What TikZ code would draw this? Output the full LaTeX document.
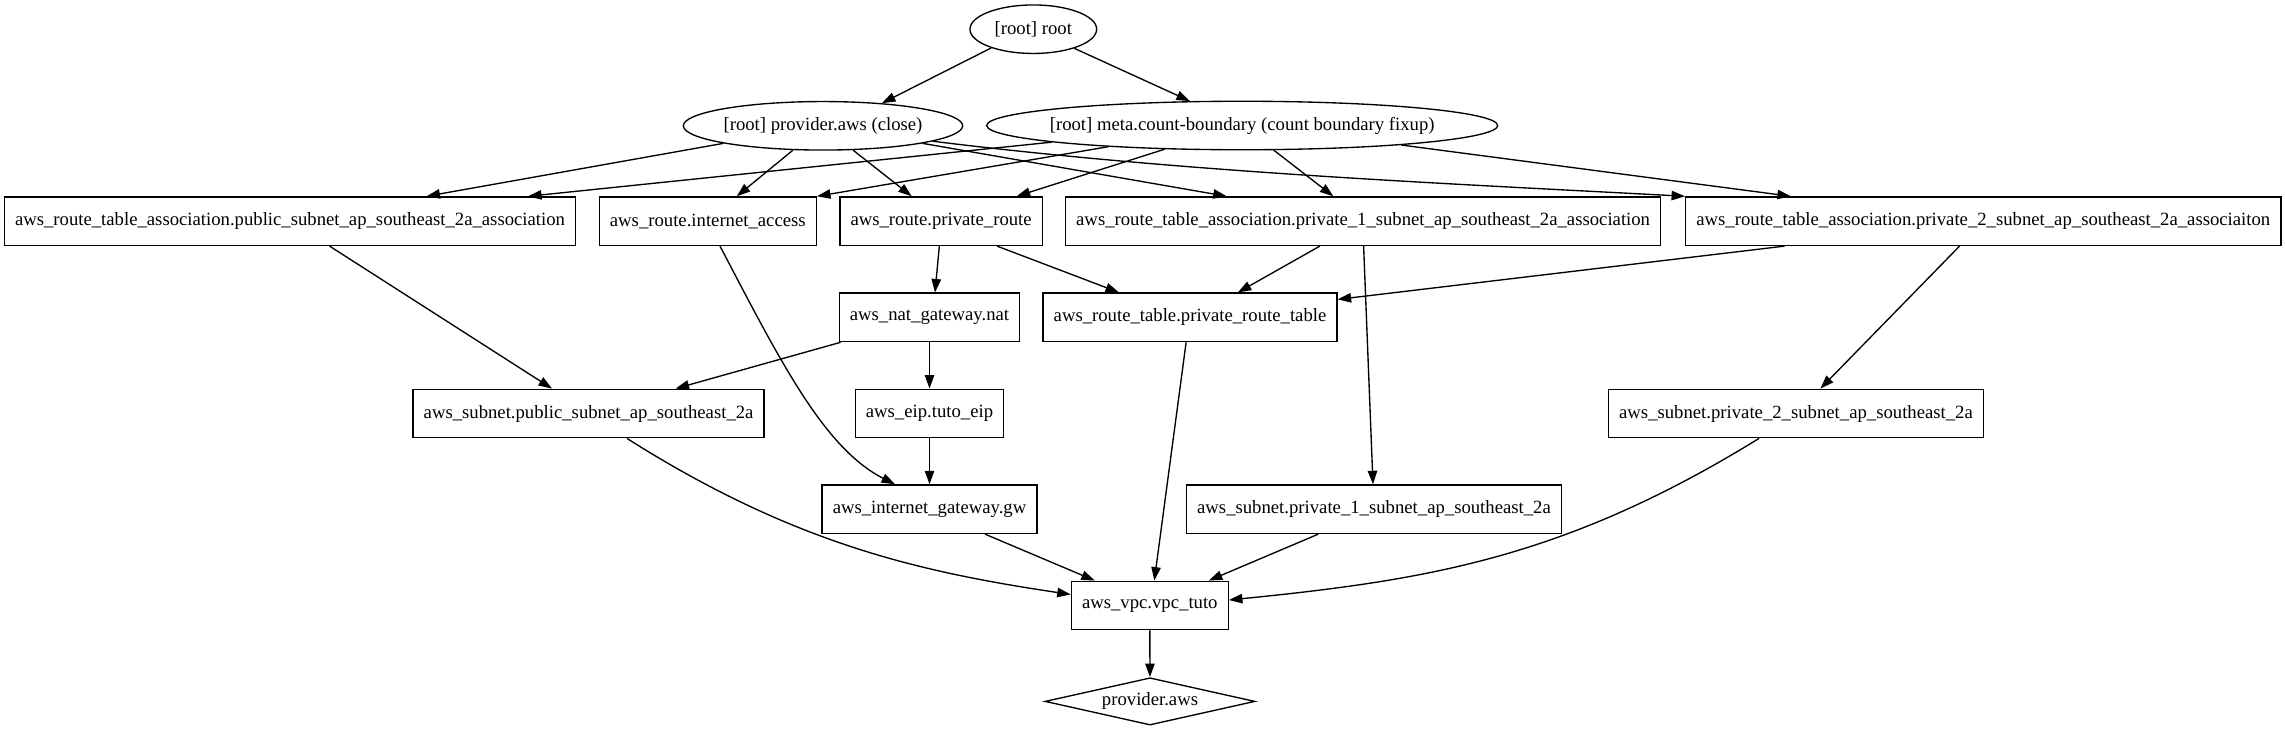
\documentclass[tikz,border=0pt]{standalone}
\usepackage{fontspec}
\setmainfont{Liberation Serif}
\usetikzlibrary{shapes.geometric,arrows.meta}
\begin{document}
\begin{tikzpicture}[x=1pt,y=-1pt,
  every node/.style={font=\fontsize{18.7}{22}\selectfont},
  box/.style={draw, rectangle, line width=1.35pt, inner xsep=10.65pt, inner ysep=0pt, minimum height=48.5pt},
  oval/.style={draw, ellipse, line width=1.35pt, inner sep=0pt, minimum height=48.5pt},
  gate/.style={draw, diamond, aspect=4.44, line width=1.35pt, inner sep=0pt, minimum width=210pt, minimum height=47.3pt},
  edge/.style={-{Triangle[length=13.5pt,width=9.4pt]}, line width=1.35pt}]
\fill[white] (0,0) rectangle (2285,731);
\useasboundingbox (0,0) rectangle (2285,731);
% ellipses
\node[oval, minimum width=126.7pt] (root) at (1033.3,29.2) {\makebox[0pt]{[root] root}};
\node[oval, minimum width=279.3pt] (prov) at (823,125.8) {\makebox[0pt]{[root] provider.aws (close)}};
\node[oval, minimum width=511pt] (meta) at (1242.2,125.5) {\makebox[0pt]{[root] meta.count-boundary (count boundary fixup)}};
% row 1
\node[box] (pa) at (290,221.2) {aws\_route\_table\_association.public\_subnet\_ap\_southeast\_2a\_association};
\node[box] (ia) at (707.8,221.2) {aws\_route.internet\_access};
\node[box] (pr) at (941.1,221.2) {aws\_route.private\_route};
\node[box] (p1a) at (1363.1,221.2) {aws\_route\_table\_association.private\_1\_subnet\_ap\_southeast\_2a\_association};
\node[box] (p2a) at (1983.3,221.2) {aws\_route\_table\_association.private\_2\_subnet\_ap\_southeast\_2a\_associaiton};
% row 2
\node[box] (nat) at (929.5,317.4) {aws\_nat\_gateway.nat};
\node[box] (prt) at (1190,317.4) {aws\_route\_table.private\_route\_table};
% row 3
\node[box] (ps) at (588.6,413.5) {aws\_subnet.public\_subnet\_ap\_southeast\_2a};
\node[box] (eip) at (929.5,413.5) {aws\_eip.tuto\_eip};
\node[box] (p2s) at (1796,413.5) {aws\_subnet.private\_2\_subnet\_ap\_southeast\_2a};
% row 4
\node[box] (gw) at (929.5,509.2) {aws\_internet\_gateway.gw};
\node[box] (p1s) at (1374,509.2) {aws\_subnet.private\_1\_subnet\_ap\_southeast\_2a};
% bottom
\node[box] (vpc) at (1149.8,605.5) {aws\_vpc.vpc\_tuto};
\node[gate] (gate) at (1150,701.4) {provider.aws};
% edges
\draw[edge] (root.204.7) -- (prov.21.2);
\draw[edge] (root.335) -- (meta.155.9);
\draw[edge] (prov.190) -- ([xshift=136.5pt]pa.north);
\draw[edge] (prov.219.5) -- ([xshift=29pt]ia.north);
\draw[edge] (prov.321.5) -- ([xshift=-29.4pt]pr.north);
\draw[edge] (prov.350.4) -- ([xshift=-136.4pt]p1a.north);
\draw[edge] (prov.352) .. controls (1181.5,172) and (1435.7,183) .. (p2a.north west);
\draw[edge] (meta.185.3) -- ([xshift=238pt]pa.north);
\draw[edge] (meta.189.4) -- (ia.north east);
\draw[edge] (meta.197.5) -- ([xshift=75.6pt]pr.north);
\draw[edge] (meta.322.8) -- ([xshift=-29.8pt]p1a.north);
\draw[edge] (meta.353) -- ([xshift=-192.5pt]p2a.north);
\draw[edge] ([xshift=39.6pt]pa.south) -- ([xshift=-36.6pt]ps.north);
\draw[edge] ([xshift=12.2pt]ia.south) .. controls (780.2,360.9) and (824,448.3) .. ([xshift=-34.5pt]gw.north);
\draw[edge] ([xshift=-1.8pt]pr.south) -- ([xshift=5.5pt]nat.north);
\draw[edge] ([xshift=56pt]pr.south) -- ([xshift=-71pt]prt.north);
\draw[edge] ([xshift=-43.3pt]p1a.south) -- ([xshift=47.8pt]prt.north);
\draw[edge] ([xshift=0.5pt]p1a.south) -- ([xshift=-1pt]p1s.north);
\draw[edge] ([xshift=-198.8pt]p2a.south) -- ([yshift=18pt]prt.east);
\draw[edge] ([xshift=-23.8pt]p2a.south) -- ([xshift=24.4pt]p2s.north);
\draw[edge] ([xshift=2pt]nat.south west) -- ([xshift=87pt]ps.north);
\draw[edge] (nat) -- (eip);
\draw[edge] (eip) -- (gw);
\draw[edge] ([xshift=-3.9pt]prt.south) -- ([xshift=4.5pt]vpc.north);
\draw[edge] ([xshift=38.4pt]ps.south) .. controls (795.6,545.3) and (923.2,572.3) .. ([yshift=11pt]vpc.west);
\draw[edge] ([xshift=55.5pt]gw.south) -- ([xshift=-55pt]vpc.north);
\draw[edge] ([xshift=-55.7pt]p1s.south) -- ([xshift=59pt]vpc.north);
\draw[edge] ([xshift=-37pt]p2s.south) .. controls (1565,558) and (1428,580) .. ([yshift=5.5pt]vpc.east);
\draw[edge] (vpc) -- (gate);
\end{tikzpicture}
\end{document}
